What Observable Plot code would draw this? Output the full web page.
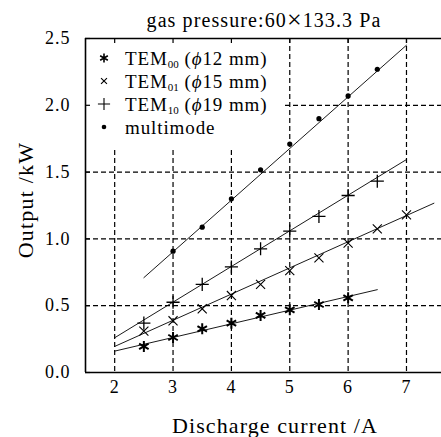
<!DOCTYPE html>
<html><head><meta charset="utf-8">
<script src="https://cdn.jsdelivr.net/npm/d3@7"></script>
<script src="https://cdn.jsdelivr.net/npm/@observablehq/plot@0.6"></script>
<style>
body{margin:0;background:#fff}
svg g[aria-label="y-axis tick label"] text, svg g[aria-label="x-axis tick label"] text{letter-spacing:1px}
</style>
</head><body><div id="chart"></div>
<script>
// ---- data ----
const titleParts = ["gas pressure:60", "\u00D7", "133.3 Pa"];
const xLabel = "Discharge current /A";
const yLabel = "Output /kW";
const xTicks = [2, 3, 4, 5, 6, 7];
const yTicks = [0, 0.5, 1.0, 1.5, 2.0, 2.5];
const yGrid = [0.5, 1.0, 1.5, 2.0];

const tem00X = [2.5, 3, 3.5, 4, 4.5, 5, 5.5, 6];
const tem00Y = [0.195, 0.262, 0.327, 0.369, 0.427, 0.469, 0.509, 0.559];
const tem01X = [2.5, 3, 3.5, 4, 4.5, 5, 5.5, 6, 6.5, 7];
const tem01Y = [0.31, 0.387, 0.477, 0.576, 0.66, 0.763, 0.858, 0.968, 1.075, 1.18];
const tem10X = [2.5, 3, 3.5, 4, 4.5, 5, 5.5, 6, 6.5];
const tem10Y = [0.37, 0.526, 0.66, 0.79, 0.926, 1.058, 1.168, 1.325, 1.432];
const multiX = [3, 3.5, 4, 4.5, 5, 5.5, 6, 6.5];
const multiY = [0.908, 1.088, 1.30, 1.517, 1.71, 1.90, 2.07, 2.27];

// fitted lines (end points)
const fit00X = [2, 6.5], fit00Y = [0.16, 0.62];
const fit01X = [2, 7.47], fit01Y = [0.195, 1.267];
const fit10X = [2, 7], fit10Y = [0.26, 1.594];
const fitMX = [2.5, 7], fitMY = [0.71, 2.45];

const legendItems = [
  {sym: "asterisk", main: "TEM", sub: "00", rest: "12 mm)"},
  {sym: "times", main: "TEM", sub: "01", rest: "15 mm)"},
  {sym: "plus", main: "TEM", sub: "10", rest: "19 mm)"},
  {sym: "dot", main: "multimode", sub: null, rest: null}
];

const pts = (X, Y) => X.map((x, i) => ({x, y: Y[i]}));
const FONT = "Liberation Serif, Times New Roman, serif";
const ML = 85, MT = 38;

const legendMark = () => {
  const g = d3.create("svg:g").attr("text-anchor", "start");
  const x0 = ML, y0 = MT;
  g.append("rect").attr("x", x0 + 1).attr("y", y0 + 1).attr("width", 196).attr("height", 109).attr("fill", "#fff");
  const symMap = {asterisk: d3.symbolAsterisk, times: d3.symbolTimes, plus: d3.symbolPlus};
  const rMap = {asterisk: 4.2, times: 2.8, plus: 4.0};
  legendItems.forEach((it, i) => {
    const cy = y0 + 20 + i * 23;
    const cx = x0 + 19;
    if (it.sym === "dot") {
      g.append("circle").attr("cx", cx).attr("cy", cy).attr("r", 2.3).attr("fill", "#000");
    } else {
      const r = rMap[it.sym];
      g.append("path").attr("transform", `translate(${cx},${cy})`)
        .attr("d", d3.symbol(symMap[it.sym], Math.PI * r * r)())
        .attr("fill", "none").attr("stroke", "#000").attr("stroke-width", it.sym === "asterisk" ? 1.6 : 1.1);
    }
    const t = g.append("text").attr("x", x0 + 40).attr("y", cy).attr("dy", "0.35em")
      .attr("font-family", FONT).attr("font-size", 19).attr("letter-spacing", 0.9).attr("fill", "#000");
    t.append("tspan").text(it.main);
    if (it.sub) {
      t.append("tspan").attr("font-size", 11).attr("dy", "0.3em").attr("letter-spacing", 0).text(it.sub);
      t.append("tspan").attr("dy", "-0.17em").text(" (");
      t.append("tspan").attr("font-style", "italic").text("\u03D5");
      t.append("tspan").text(it.rest);
    }
  });
  return g.node();
};

const labelMark = () => {
  const g = d3.create("svg:g").attr("font-family", FONT).attr("fill", "#000");
  const t = g.append("text").attr("x", 264).attr("y", 27).attr("text-anchor", "middle")
    .attr("font-size", 20).attr("letter-spacing", 1.1);
  t.append("tspan").text(titleParts[0]);
  t.append("tspan").attr("font-size", 26).attr("dy", 1).text(titleParts[1]);
  t.append("tspan").attr("dy", -1).text(titleParts[2]);
  g.append("text").attr("x", 275).attr("y", 433).attr("text-anchor", "middle")
    .attr("font-size", 22).attr("letter-spacing", 1.1).text(xLabel);
  g.append("text").attr("transform", "translate(33,200) rotate(-90)").attr("text-anchor", "middle")
    .attr("font-size", 22).attr("letter-spacing", 1.2).text(yLabel);
  return g.node();
};

const lineStyle = {stroke: "#000", strokeWidth: 0.9};
const plot = Plot.plot({
  width: 441, height: 437,
  marginLeft: ML, marginRight: 0, marginTop: MT, marginBottom: 65,
  style: {fontFamily: FONT, fontSize: "18px", background: "#fff", color: "#000", overflow: "visible"},
  x: {domain: [1.5, 7.6], axis: null},
  y: {domain: [0, 2.5], axis: null},
  marks: [
    Plot.ruleX(xTicks, {stroke: "#000", strokeWidth: 1.2, strokeDasharray: "5,3"}),
    Plot.ruleY(yGrid, {stroke: "#000", strokeWidth: 1.2, strokeDasharray: "5,3"}),
    Plot.line(pts(fit00X, fit00Y), {x: "x", y: "y", ...lineStyle}),
    Plot.line(pts(fit01X, fit01Y), {x: "x", y: "y", ...lineStyle}),
    Plot.line(pts(fit10X, fit10Y), {x: "x", y: "y", ...lineStyle}),
    Plot.line(pts(fitMX, fitMY), {x: "x", y: "y", ...lineStyle}),
    Plot.dot(pts(tem00X, tem00Y), {x: "x", y: "y", symbol: "asterisk", r: 5.2, stroke: "#000", strokeWidth: 2, fill: "none"}),
    Plot.dot(pts(tem01X, tem01Y), {x: "x", y: "y", symbol: "times", r: 4.2, stroke: "#000", strokeWidth: 1.1, fill: "none"}),
    Plot.dot(pts(tem10X, tem10Y), {x: "x", y: "y", symbol: "plus", r: 4.3, stroke: "#000", strokeWidth: 1.3, fill: "none"}),
    Plot.dot(pts(multiX, multiY), {x: "x", y: "y", r: 2.6, fill: "#000", stroke: "none"}),
    legendMark,
    Plot.ruleX([1.5], {stroke: "#000", strokeWidth: 1.6}),
    Plot.ruleY([0, 2.5], {stroke: "#000", strokeWidth: 1.6}),
    Plot.axisY(yTicks, {anchor: "left", tickSize: -5, tickFormat: () => "", label: null, strokeWidth: 1.2}),
    Plot.axisY(yTicks, {anchor: "left", tickSize: 0, tickPadding: 15, tickFormat: d3.format(".1f"), label: null, fontSize: 18}),
    Plot.axisX(xTicks, {anchor: "top", tickSize: -4, tickFormat: () => "", label: null, strokeWidth: 1.2}),
    Plot.axisX(xTicks, {anchor: "bottom", tickSize: 0, tickPadding: 8, label: null, fontSize: 18}),
    labelMark
  ]
});
document.getElementById("chart").append(plot);
</script>
</body></html>
